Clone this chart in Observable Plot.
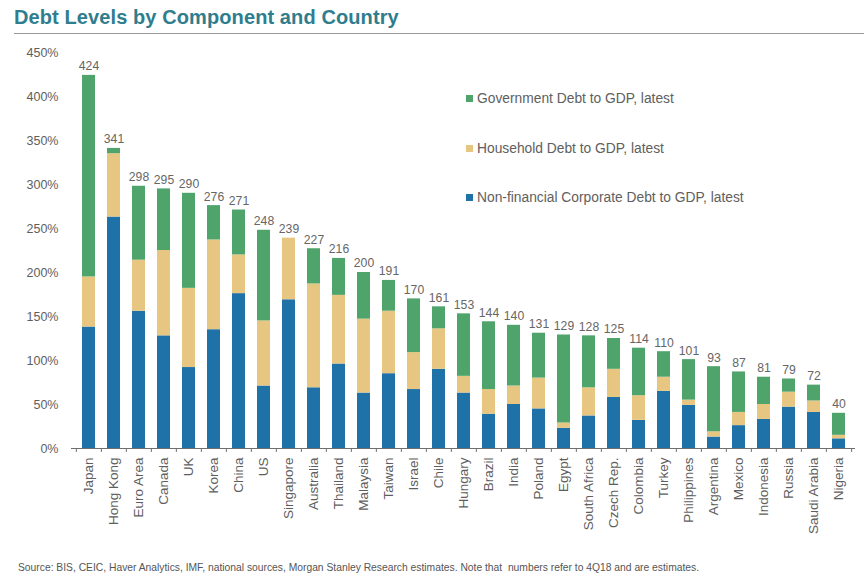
<!DOCTYPE html>
<html>
<head>
<meta charset="utf-8">
<script src="https://cdn.jsdelivr.net/npm/d3@7"></script>
<script src="https://cdn.jsdelivr.net/npm/@observablehq/plot@0.6"></script>
<style>
  html, body { margin: 0; padding: 0; background: #fff; }
  #wrap { position: relative; width: 864px; height: 579px; font-family: "Liberation Sans", Arial, sans-serif; overflow: hidden; }
  #title { position: absolute; left: 14px; top: 6px; font-size: 20px; font-weight: bold; color: #2f7d8d; letter-spacing: 0.1px; }
  #rule { position: absolute; left: 14px; right: 0; top: 33px; height: 0; border-top: 1px solid #9a9a9a; }
  #chart { position: absolute; left: 0; top: 38px; }
  #legend { position: absolute; left: 466px; top: 0; font-size: 13.8px; color: #606060; }
  .li { position: absolute; white-space: nowrap; display: flex; align-items: center; }
  .sw { width: 7px; height: 7px; margin-right: 4px; display: inline-block; }
  #caption { position: absolute; left: 18px; top: 562px; font-size: 10.3px; color: #555; white-space: nowrap; }
</style>
</head>
<body>
<div id="wrap">
  <div id="title">Debt Levels by Component and Country</div>
  <div id="rule"></div>
  <div id="chart"></div>
  <div id="legend"></div>
  <div id="caption">Source: BIS, CEIC, Haver Analytics, IMF, national sources, Morgan Stanley Research estimates. Note that&nbsp; numbers refer to 4Q18 and are estimates.</div>
</div>
<script>
const countries = ["Japan","Hong Kong","Euro Area","Canada","UK","Korea","China","US","Singapore","Australia","Thailand","Malaysia","Taiwan","Israel","Chile","Hungary","Brazil","India","Poland","Egypt","South Africa","Czech Rep.","Colombia","Turkey","Philippines","Argentina","Mexico","Indonesia","Russia","Saudi Arabia","Nigeria"];
const corporate  = [138,263,156,128, 92,135,176, 71,169, 69, 96, 63, 85, 67, 90, 63, 39, 50, 45, 23, 37, 58, 32, 65, 49, 13, 26, 33, 47, 41, 11];
const household  = [ 57, 72, 58, 97, 90,102, 44, 74, 70,118, 78, 84, 71, 42, 46, 19, 28, 21, 35,  6, 32, 32, 28, 16,  6,  6, 15, 17, 17, 13,  4];
const government = [229,  6, 84, 70,108, 39, 51,103,  0, 40, 42, 53, 35, 61, 25, 71, 77, 69, 51,100, 59, 35, 54, 29, 46, 74, 46, 31, 15, 18, 25];
const totals     = [424,341,298,295,290,276,271,248,239,227,216,200,191,170,161,153,144,140,131,129,128,125,114,110,101, 93, 87, 81, 79, 72, 40];
const seriesNames = ["Non-financial Corporate Debt to GDP, latest","Household Debt to GDP, latest","Government Debt to GDP, latest"];
const seriesColors = ["#1f72a8","#e7c681","#4fa46c"];
const yTicks = [0,50,100,150,200,250,300,350,400,450];

const seriesValues = [corporate, household, government];
const rows = [];
countries.forEach((c, i) => {
  seriesNames.forEach((s, k) => rows.push({country: c, series: s, value: seriesValues[k][i]}));
});
const totalRows = countries.map((c, i) => ({country: c, total: totals[i]}));

const W = 864, H = 520, mL = 71, mR = 9, mT = 14, mB = 110;
const step = (W - mL - mR) / countries.length;

const chart = Plot.plot({
  width: W, height: H,
  marginLeft: mL, marginRight: mR, marginTop: mT, marginBottom: mB,
  style: {fontFamily: "'Liberation Sans', Arial, sans-serif", color: "#5a5a5a", background: "#fff"},
  x: {domain: countries, paddingInner: 0.5, paddingOuter: 0.25, label: null},
  y: {domain: [0, 450], label: null},
  color: {domain: seriesNames, range: seriesColors},
  marks: [
    Plot.axisY({ticks: yTicks, tickSize: 0, tickPadding: 13, tickFormat: d => d + "%", fontSize: 12.5, fill: "#5e5e5e", label: null}),
    Plot.axisX({tickSize: 0, tickRotate: -90, tickPadding: 9, fontSize: 13.5, fill: "#5e5e5e", label: null}),
    Plot.barY(rows, Plot.stackY({order: seriesNames}, {x: "country", y: "value", fill: "series"})),
    Plot.ruleY([0], {stroke: "#6e6e6e", strokeWidth: 1}),
    Plot.ruleX(countries, {x: d => d, y1: 0, y2: -4.5, dx: -step / 2, stroke: "#6e6e6e"}),
    Plot.ruleX(countries.slice(-1), {x: d => d, y1: 0, y2: -4.5, dx: step / 2, stroke: "#6e6e6e"}),
    Plot.text(totalRows, {x: "country", y: "total", text: d => String(d.total), dy: -9, fontSize: 12.2, fill: "#666"})
  ]
});
document.getElementById("chart").appendChild(chart);

const legend = document.getElementById("legend");
const legendOrder = [2, 1, 0];
const legendY = [91, 141, 190];
legendOrder.forEach((k, j) => {
  const d = document.createElement("div");
  d.className = "li";
  d.style.top = legendY[j] + "px";
  const sw = document.createElement("span");
  sw.className = "sw";
  sw.style.background = seriesColors[k];
  d.appendChild(sw);
  d.appendChild(document.createTextNode(seriesNames[k]));
  legend.appendChild(d);
});
</script>
</body>
</html>
